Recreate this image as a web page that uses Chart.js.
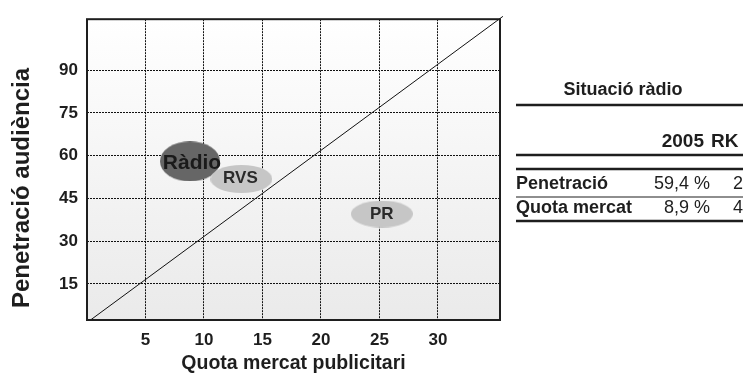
<!DOCTYPE html>
<html>
<head>
<meta charset="utf-8">
<script src="https://cdn.jsdelivr.net/npm/chart.js@4.4.1/dist/chart.umd.min.js"></script>
<style>
  body { margin: 0; background: #fff; }
  #wrap { width: 743px; height: 379px; position: relative; }
</style>
</head>
<body>
<div id="wrap"><canvas id="chart"></canvas></div>
<script>
// bubbles: name, x = quota mercat, y = penetració
const bubbleNames = ['Ràdio', 'RVS', 'PR'];
const bubbleX = [8.8, 13.2, 25.2];
const bubbleY = [58.0, 51.8, 39.5];

// diagonal reference line
const diagX = [0.3, 35.55];
const diagY = [2.3, 108.9];

const xTicks = [5, 10, 15, 20, 25, 30];
const yTicks = [15, 30, 45, 60, 75, 90];

// side table
const tableTitle = 'Situació ràdio';
const tableCols = ['2005', 'RK'];
const tableRows = ['Penetració', 'Quota mercat'];
const tableValues = ['59,4 %', '8,9 %'];
const tableRanks = ['2', '4'];

const FONT = '"Liberation Sans", Arial, sans-serif';
const INK = '#1e1e1e';

// ellipse look for each bubble
const bubbleStyle = [
  { rx: 30, ry: 20, fill: '#666666', font: 'bold 21px', color: '#1a1a1a', dx: 2, dy: 2, order: 3 },
  { rx: 31, ry: 14, fill: '#c6c6c6', font: 'bold 17px', color: '#2a2a2a', dx: -1, dy: -1, order: 1 },
  { rx: 31, ry: 13.5, fill: '#c6c6c6', font: 'bold 17px', color: '#2a2a2a', dx: 0, dy: 0, order: 2 }
];

function ellipseImage(rx, ry, fill) {
  const c = document.createElement('canvas');
  c.width = Math.round(rx * 2);
  c.height = Math.round(ry * 2);
  const g = c.getContext('2d');
  g.fillStyle = fill;
  g.beginPath();
  g.ellipse(c.width / 2, c.height / 2, c.width / 2, c.height / 2, 0, 0, Math.PI * 2);
  g.fill();
  return c;
}

const datasets = bubbleNames.map((name, i) => ({
  type: 'scatter',
  label: name,
  data: [{ x: bubbleX[i], y: bubbleY[i] }],
  pointStyle: ellipseImage(bubbleStyle[i].rx, bubbleStyle[i].ry, bubbleStyle[i].fill),
  pointRadius: 1,
  order: bubbleStyle[i].order
}));

datasets.push({
  type: 'line',
  label: 'diagonal',
  data: diagX.map((x, i) => ({ x: x, y: diagY[i] })),
  borderColor: '#111',
  borderWidth: 1,
  pointRadius: 0,
  clip: false,
  order: 4
});

// gradient background + frame of the plot area
const plotFrame = {
  id: 'plotFrame',
  beforeDraw(chart) {
    const { ctx, chartArea: a } = chart;
    const grad = ctx.createLinearGradient(0, a.top, 0, a.bottom);
    grad.addColorStop(0, '#ffffff');
    grad.addColorStop(1, '#eaeaea');
    ctx.save();
    ctx.fillStyle = grad;
    ctx.fillRect(a.left, a.top, a.right - a.left, a.bottom - a.top);
    ctx.restore();
  },
  afterDraw(chart) {
    const { ctx, chartArea: a } = chart;
    ctx.save();
    ctx.strokeStyle = INK;
    ctx.lineWidth = 2;
    ctx.strokeRect(a.left, a.top, a.right - a.left, a.bottom - a.top);

    // y axis title
    ctx.translate(22, 188);
    ctx.rotate(-Math.PI / 2);
    ctx.font = 'bold 24px ' + FONT;
    ctx.fillStyle = INK;
    ctx.textAlign = 'center';
    ctx.textBaseline = 'middle';
    ctx.fillText('Penetració audiència', 0, 0);
    ctx.restore();
  }
};

// text labels on the ellipses
const bubbleLabels = {
  id: 'bubbleLabels',
  afterDatasetsDraw(chart) {
    const { ctx } = chart;
    ctx.save();
    ctx.textAlign = 'center';
    ctx.textBaseline = 'middle';
    bubbleNames.forEach((name, i) => {
      const pt = chart.getDatasetMeta(i).data[0];
      const s = bubbleStyle[i];
      ctx.font = s.font + ' ' + FONT;
      ctx.fillStyle = s.color;
      ctx.fillText(name, pt.x + s.dx, pt.y + s.dy);
    });
    ctx.restore();
  }
};

// the little summary table on the right
const sideTable = {
  id: 'sideTable',
  afterDraw(chart) {
    const ctx = chart.ctx;
    const left = 516, right = 743;
    ctx.save();
    ctx.fillStyle = INK;
    ctx.strokeStyle = INK;
    ctx.textBaseline = 'middle';

    ctx.font = 'bold 18px ' + FONT;
    ctx.textAlign = 'center';
    ctx.fillText(tableTitle, 623, 90);

    ctx.font = 'bold 19px ' + FONT;
    ctx.textAlign = 'right';
    ctx.fillText(tableCols[0], 704, 142);
    ctx.textAlign = 'left';
    ctx.fillText(tableCols[1], 711, 142);

    tableRows.forEach((r, i) => {
      const y = 184 + i * 24;
      ctx.font = 'bold 18px ' + FONT;
      ctx.textAlign = 'left';
      ctx.fillText(r, left, y);
      ctx.font = '18px ' + FONT;
      ctx.textAlign = 'right';
      ctx.fillText(tableValues[i], 710, y);
      ctx.textAlign = 'left';
      ctx.fillText(tableRanks[i], 733, y);
    });

    const rules = [[105, 2.5], [155, 2.5], [169, 2.5], [197, 1.2], [221, 2.5]];
    rules.forEach(([y, w]) => {
      ctx.lineWidth = w;
      ctx.beginPath();
      ctx.moveTo(left, y);
      ctx.lineTo(right, y);
      ctx.stroke();
    });
    ctx.restore();
  }
};

new Chart(document.getElementById('chart'), {
  type: 'scatter',
  data: { datasets: datasets },
  options: {
    responsive: true,
    maintainAspectRatio: false,
    animation: false,
    events: [],
    layout: { padding: { top: 13, right: 243, left: 0, bottom: 0 } },
    plugins: { legend: { display: false }, tooltip: { enabled: false } },
    scales: {
      x: {
        type: 'linear',
        min: 0,
        max: 35.3,
        afterFit: s => { s.height = 59; },
        afterBuildTicks: s => { s.ticks = xTicks.map(v => ({ value: v })); },
        grid: { color: '#111', lineWidth: 1, drawTicks: false },
        border: { display: false, dash: [2, 1] },
        ticks: { padding: 10, color: INK, font: { family: FONT, size: 17, weight: 'bold' } },
        title: {
          display: true,
          text: 'Quota mercat publicitari',
          color: INK,
          padding: { top: 0, bottom: 4 },
          font: { family: FONT, size: 19.5, weight: 'bold' }
        }
      },
      y: {
        type: 'linear',
        min: 2.3,
        max: 107.9,
        afterFit: s => { s.width = 87; },
        afterBuildTicks: s => { s.ticks = yTicks.map(v => ({ value: v })); },
        grid: { color: '#111', lineWidth: 1, drawTicks: false },
        border: { display: false, dash: [2, 1] },
        ticks: { padding: 9, color: INK, font: { family: FONT, size: 17, weight: 'bold' } }
      }
    }
  },
  plugins: [plotFrame, bubbleLabels, sideTable]
});
</script>
</body>
</html>
